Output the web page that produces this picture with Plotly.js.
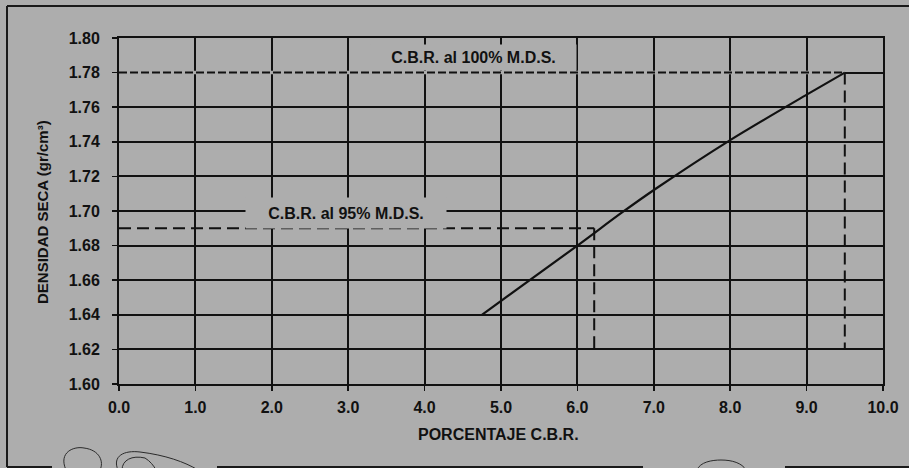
<!DOCTYPE html>
<html>
<head>
<meta charset="utf-8">
<script src="https://cdn.plot.ly/plotly-3.0.1.min.js"></script>
<style>
html,body{margin:0;padding:0;background:#adadad;}
#chart{width:909px;height:468px;}
</style>
</head>
<body>
<div id="chart"></div>
<script>
// ---- data ----
const cbrCurve  = [4.75, 6.0, 6.58, 7.03, 8.0, 9.03, 9.5];
const densCurve = [1.640, 1.680, 1.699, 1.713, 1.741, 1.768, 1.780];

const refLabels = ["C.B.R. al 100% M.D.S.", "C.B.R. al 95% M.D.S."];
const refDens   = [1.78, 1.69];   // M.D.S. levels
const refCbr    = [9.5, 6.22];    // C.B.R. read at each level
const dropTo    = 1.62;           // vertical guide lines end here

const xTitle = "PORCENTAJE C.B.R.";
const yTitle = "DENSIDAD SECA (gr/cm³)";

// ---- styling ----
const BG = "#adadad";
const INK = "#111111";
const FONT = "Liberation Sans, Arial, sans-serif";

const W = 909, H = 468;
const M = {l:119, r:26, t:38, b:84};
const pw = W - M.l - M.r, ph = H - M.t - M.b;
// pixel -> paper helpers (decoration only)
const px = v => (v - M.l) / pw;
const py = v => (H - M.b - v) / ph;

const traces = [];
// gray under-stroke that hides the 1.78 gridline under the fine dashes
traces.push({x:[0, refCbr[0]], y:[refDens[0], refDens[0]], mode:"lines",
  line:{color:BG, width:3.5}, hoverinfo:"skip", showlegend:false});
// horizontal guides
traces.push({x:[0, refCbr[0]], y:[refDens[0], refDens[0]], mode:"lines",
  line:{color:INK, width:2, dash:"8px,3px"}, showlegend:false});
traces.push({x:[0, refCbr[1]], y:[refDens[1], refDens[1]], mode:"lines",
  line:{color:INK, width:2, dash:"12px,6px"}, showlegend:false});
// vertical guides
for (let i = 0; i < refCbr.length; i++) {
  traces.push({x:[refCbr[i], refCbr[i]], y:[refDens[i], dropTo], mode:"lines",
    line:{color:INK, width:2, dash:"12px,6px"}, showlegend:false});
}
// main curve
traces.push({x:cbrCurve, y:densCurve, mode:"lines",
  line:{color:INK, width:2.2, shape:"spline", smoothing:0.8}, showlegend:false});

const annotations = [
  {x:4.645, y:1.7886, xref:"x", yref:"y", text:refLabels[0], showarrow:false,
   font:{family:FONT, size:16, color:INK, weight:"bold"}, bgcolor:BG,
   width:205, height:25, borderpad:0},
  {x:2.97, y:1.699, xref:"x", yref:"y", text:refLabels[1], showarrow:false,
   font:{family:FONT, size:16, color:INK, weight:"bold"}, bgcolor:BG,
   width:200, height:30, borderpad:0},
  {x:px(498.5), y:py(434), xref:"paper", yref:"paper", text:xTitle, showarrow:false,
   xanchor:"center", yanchor:"middle",
   font:{family:FONT, size:16, color:INK, weight:"bold"}},
  {x:px(42.5), y:py(212.5), xref:"paper", yref:"paper", text:yTitle, showarrow:false,
   textangle:-90, xanchor:"center", yanchor:"middle",
   font:{family:FONT, size:15, color:INK, weight:"bold"}}
];

const frame = {type:"line", xref:"paper", yref:"paper", line:{color:"#1a1a1a", width:2}};
const shapes = [
  Object.assign({}, frame, {x0:px(7), x1:px(912), y0:py(6), y1:py(6)}),
  Object.assign({}, frame, {x0:px(7), x1:px(7), y0:py(6), y1:py(467)}),
  Object.assign({}, frame, {x0:px(7), x1:px(52), y0:py(467), y1:py(467)}),
  Object.assign({}, frame, {x0:px(217), x1:px(643), y0:py(467), y1:py(467)}),
  Object.assign({}, frame, {x0:px(785), x1:px(912), y0:py(467), y1:py(467)}),
  // signature scribbles
  {type:"path", xref:"paper", yref:"paper", line:{color:"#2a2a2a", width:1},
   path:`M ${px(66)},${py(470)} C ${px(58)},${py(452)} ${px(74)},${py(446)} ${px(84)},${py(448)} C ${px(100)},${py(450)} ${px(104)},${py(462)} ${px(100)},${py(470)}`},
  {type:"path", xref:"paper", yref:"paper", line:{color:"#2a2a2a", width:1},
   path:`M ${px(118)},${py(470)} C ${px(112)},${py(456)} ${px(124)},${py(450)} ${px(140)},${py(452)} C ${px(165)},${py(455)} ${px(185)},${py(462)} ${px(198)},${py(470)}`},
  {type:"path", xref:"paper", yref:"paper", line:{color:"#2a2a2a", width:1},
   path:`M ${px(122)},${py(470)} C ${px(122)},${py(460)} ${px(132)},${py(455)} ${px(145)},${py(458)} C ${px(150)},${py(461)} ${px(154)},${py(466)} ${px(156)},${py(470)}`},
  {type:"path", xref:"paper", yref:"paper", line:{color:"#2a2a2a", width:1},
   path:`M ${px(697)},${py(470)} C ${px(700)},${py(462)} ${px(712)},${py(460)} ${px(721)},${py(460)} C ${px(732)},${py(460)} ${px(742)},${py(463)} ${px(746)},${py(470)}`}
];

const axisCommon = {
  showline:true, mirror:true, linecolor:INK, linewidth:2,
  showgrid:true, gridcolor:INK, gridwidth:2, zeroline:false,
  ticks:"outside", ticklen:5, tickwidth:1.5, tickcolor:INK,
  tickfont:{family:FONT, size:16, color:INK, weight:"bold"},
  fixedrange:true
};

const layout = {
  width:W, height:H,
  margin:M,
  paper_bgcolor:BG, plot_bgcolor:BG,
  showlegend:false,
  xaxis:Object.assign({}, axisCommon, {range:[0,10], dtick:1, tick0:0, tickformat:".1f", ticklabelstandoff:3}),
  yaxis:Object.assign({}, axisCommon, {range:[1.6,1.8], dtick:0.02, tick0:1.6, tickformat:".2f", ticklabelstandoff:9}),
  annotations:annotations,
  shapes:shapes
};

Plotly.newPlot("chart", traces, layout, {displayModeBar:false, staticPlot:true});
</script>
</body>
</html>
